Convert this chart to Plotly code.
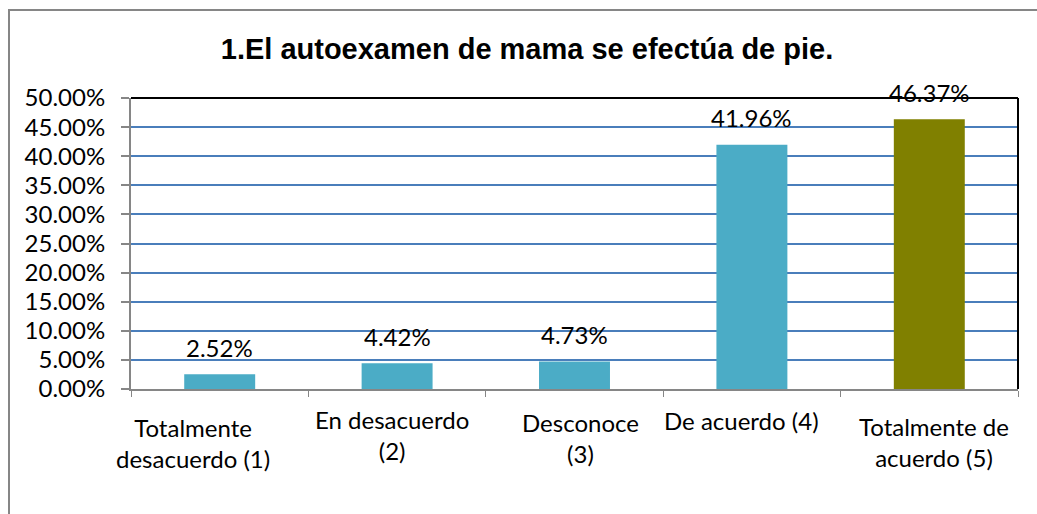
import plotly.graph_objects as go

# ---- data ----
categories = ["Totalmente desacuerdo (1)", "En desacuerdo (2)", "Desconoce (3)",
              "De acuerdo (4)", "Totalmente de acuerdo (5)"]
label_text = ["Totalmente<br>desacuerdo (1)", "En desacuerdo<br>(2)", "Desconoce<br>(3)",
              "De acuerdo (4)", "Totalmente de<br>acuerdo (5)"]
values = [2.52, 4.42, 4.73, 41.96, 46.37]
y_ticks = [0, 5, 10, 15, 20, 25, 30, 35, 40, 45, 50]
title_text = "1.El autoexamen de mama se efectúa de pie."

# ---- styling ----
bar_colors = ["#4BACC6", "#4BACC6", "#4BACC6", "#4BACC6", "#808000"]
label_xshift = [-27, -5, 6, -10, 5]
label_yshift = [-54, -46, -49, -31, -53]
FONT = "Lato"

W, H = 1037, 514
ML, MR, MT, MB = 131, 19, 98, 125
PW, PH = W - ML - MR, H - MT - MB

fig = go.Figure()
fig.add_trace(go.Bar(
    x=categories, y=values,
    marker=dict(color=bar_colors, line=dict(width=0)),
    width=0.4,
    hoverinfo="skip",
))

annotations = []
for c, v in zip(categories, values):
    annotations.append(dict(
        x=c, y=v, xref="x", yref="y", text=f"{v:.2f}%", showarrow=False,
        yanchor="middle", yshift=27, font=dict(family=FONT, size=24, color="#000000"),
    ))
for c, t, dx, dy in zip(categories, label_text, label_xshift, label_yshift):
    annotations.append(dict(
        x=c, y=0, xref="x", yref="paper", text=t, showarrow=False,
        yanchor="middle", xanchor="center", xshift=dx, yshift=dy, align="center",
        font=dict(family=FONT, size=24, color="#000000"),
    ))

shapes = [
    # outer chart frame (extends beyond visible area on right/bottom)
    dict(type="rect", xref="paper", yref="paper",
         x0=(9 - ML) / PW, x1=1.2, y0=-1.0, y1=(PH + MT - 10) / PH,
         line=dict(color="#868686", width=2), layer="below"),
    # plot area border (top & right black)
    dict(type="line", xref="paper", yref="paper", x0=0, x1=1, y0=1, y1=1,
         line=dict(color="#000000", width=2), layer="above"),
    dict(type="line", xref="paper", yref="paper", x0=1, x1=1, y0=0, y1=1,
         line=dict(color="#000000", width=2), layer="above"),
]

fig.update_layout(
    width=W, height=H,
    margin=dict(l=ML, r=MR, t=MT, b=MB, pad=0, autoexpand=False),
    paper_bgcolor="#FFFFFF", plot_bgcolor="#FFFFFF",
    showlegend=False,
    title=dict(text=title_text, x=527 / W, xanchor="center", xref="container",
               y=1 - 49 / H, yanchor="middle", yref="container",
               font=dict(family="Liberation Sans", size=29, color="#000000", weight="bold")),
    bargap=0.6,
    annotations=annotations,
    shapes=shapes,
)

fig.update_yaxes(
    range=[0, 50], tickvals=y_ticks, ticktext=[f"{t:.2f}%" for t in y_ticks],
    showgrid=True, gridcolor="#4A7EBB", gridwidth=1.5,
    showline=True, linecolor="#868686", linewidth=2,
    ticks="outside", ticklen=8, tickcolor="#868686", tickwidth=2,
    ticklabelstandoff=11, automargin=False,
    tickfont=dict(family=FONT, size=24, color="#000000"),
    zeroline=False, fixedrange=True,
)
fig.update_xaxes(
    range=[-0.5, len(categories) - 0.5],
    showticklabels=False, showgrid=False, automargin=False,
    showline=True, linecolor="#868686", linewidth=2,
    ticks="outside", tickson="boundaries", ticklen=6, tickcolor="#868686", tickwidth=1,
    fixedrange=True,
)

fig.write_html("out.html", config={"displayModeBar": False},
               post_script="document.body.style.margin='0';document.body.style.overflow='hidden';")
